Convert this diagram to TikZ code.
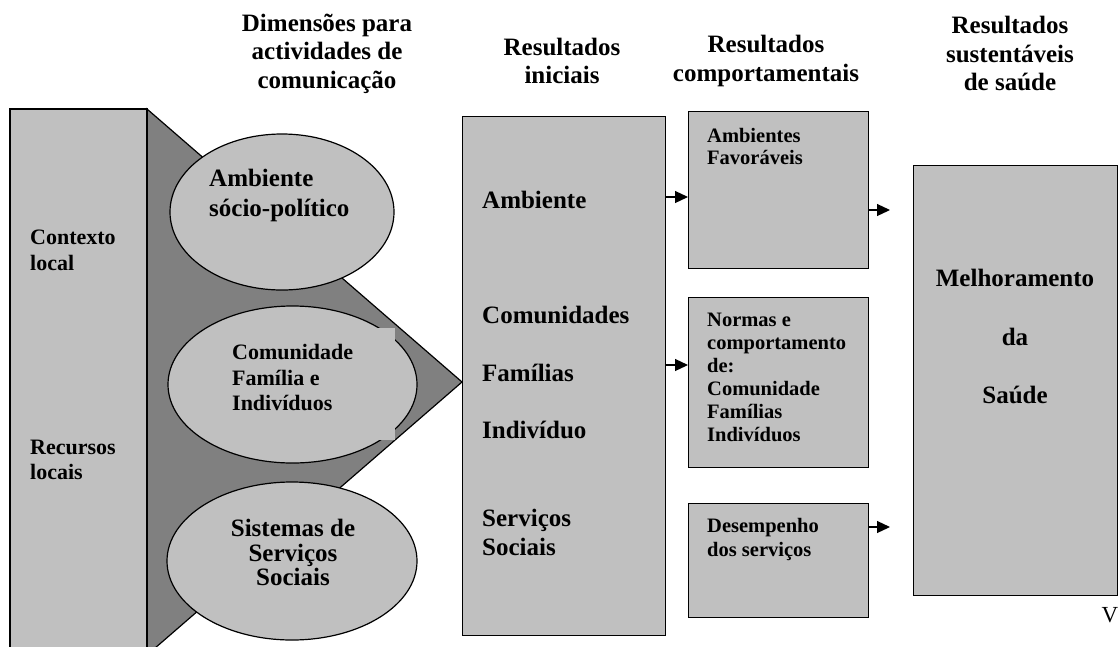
\documentclass[tikz,border=0pt]{standalone}
\usepackage{fontspec}
\setmainfont{Liberation Serif}
\usetikzlibrary{arrows.meta,shapes.geometric}
\definecolor{lgray}{HTML}{C0C0C0}
\definecolor{dgray}{HTML}{808080}
\tikzset{
  box/.style={draw=black, line width=1.2pt, fill=lgray},
  txt/.style={inner sep=0pt, font=\bfseries, align=left, anchor=west},
  arr/.style={line width=1.2pt, -{Triangle[length=13pt,width=12pt]}},
  head/.style={inner sep=0pt, font=\fontsize{25}{28.5}\selectfont\bfseries, align=center},
}
\begin{document}
\begin{tikzpicture}[x=1pt,y=-1pt]
\useasboundingbox (0,0) rectangle (1119,646);
\clip (0,0) rectangle (1119,646);
% headers
\node[head] (h1) at (327,53.5) {Dimensões para\\actividades de\\comunicação};
\node[head] (h2) at (562,61) {Resultados\\iniciais};
\node[head] (h3) at (766,61) {Resultados\\comportamentais};
\node[head] (h4) at (1010,53.5) {Resultados\\sustentáveis\\de saúde};
% triangle
\draw[line width=1.2pt, fill=dgray] (147,109) -- (462,382) -- (147,655) -- cycle;
% left rect
\draw[box] (10,109) rectangle (147,660);
\node[txt, font=\fontsize{22}{26}\selectfont\bfseries] (ctx) at (30,250) {Contexto\\local};
\node[txt, font=\fontsize{22}{25}\selectfont\bfseries] (rec) at (30,459.5) {Recursos\\locais};
% ellipses
\node[box, ellipse, minimum width=224pt, minimum height=156pt, inner sep=0pt] (e1) at (282,212) {};
\node[box, ellipse, minimum width=249pt, minimum height=157pt, inner sep=0pt] (e2) at (292.5,384.5) {};
\node[box, ellipse, minimum width=250pt, minimum height=158pt, inner sep=0pt] (e3) at (292,561) {};
\fill[lgray] (350,328) rectangle (395,440);
\node[txt, font=\fontsize{25}{30}\selectfont\bfseries] (t1) at (209,195) {Ambiente\\sócio-político};
\node[txt, font=\fontsize{22}{25.5}\selectfont\bfseries] (t2) at (232,377.5) {Comunidade\\Família e\\Indivíduos};
\node[txt, anchor=center, align=center, font=\fontsize{25}{24.5}\selectfont\bfseries] (t3) at (293,552.5) {Sistemas de\\Serviços\\Sociais};
% middle rect
\node[box, anchor=north west, minimum width=203pt, minimum height=519pt, inner sep=0pt] (mid) at (462,116) {};
\node[txt, font=\fontsize{25}{29}\selectfont\bfseries] (m1) at (482,200) {Ambiente};
\node[txt, font=\fontsize{25}{29}\selectfont\bfseries] (m2) at (482,315) {Comunidades};
\node[txt, font=\fontsize{25}{29}\selectfont\bfseries] (m3) at (482,373) {Famílias};
\node[txt, font=\fontsize{25}{29}\selectfont\bfseries] (m4) at (482,430) {Indivíduo};
\node[txt, font=\fontsize{25}{29}\selectfont\bfseries] (m5) at (482,532.5) {Serviços\\Sociais};
% behaviour boxes
\node[box, anchor=north west, minimum width=180pt, minimum height=157pt, inner sep=0pt] (b1) at (688,111) {};
\node[box, anchor=north west, minimum width=180pt, minimum height=170pt, inner sep=0pt] (b2) at (688,297) {};
\node[box, anchor=north west, minimum width=180pt, minimum height=114pt, inner sep=0pt] (b3) at (688,503) {};
\node[txt, font=\fontsize{20.5}{22}\selectfont\bfseries] (bt1) at (707,146) {Ambientes\\Favoráveis};
\node[txt, font=\fontsize{20.5}{23}\selectfont\bfseries] (bt2) at (707,377.5) {Normas e\\comportamento\\de:\\Comunidade\\Famílias\\Indivíduos};
\node[txt, font=\fontsize{20.5}{24.5}\selectfont\bfseries] (bt3) at (707,539.5) {Desempenho\\dos serviços};
% big right rect
\node[box, anchor=north west, minimum width=204pt, minimum height=430pt, inner sep=0pt] (big) at (913,165) {};
\node[txt, anchor=center, align=center, font=\fontsize{25}{58.5}\selectfont\bfseries] (bt) at (1015,336.5) {Melhoramento\\da\\Saúde};
\node[inner sep=0pt, font=\fontsize{23}{26}\selectfont] (v) at (1110,615) {V};
% arrows
\coordinate (c1) at (890,210);
\coordinate (c3) at (890,527);
\draw[arr] (mid.east |- 0,197) -- (b1.west |- 0,197);
\draw[arr] (mid.east |- 0,365) -- (b2.west |- 0,365);
\draw[arr] (b1.east |- c1) -- (c1);
\draw[arr] (b3.east |- c3) -- (c3);
\end{tikzpicture}
\end{document}
